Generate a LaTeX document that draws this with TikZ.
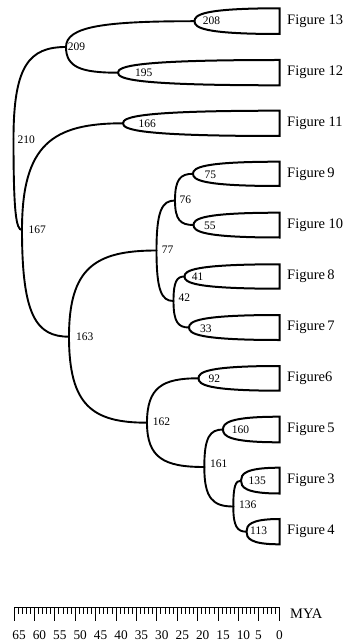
\documentclass[tikz,border=0pt]{standalone}
\usepackage{fontspec}
\setmainfont{Liberation Serif}
\usetikzlibrary{calc}
\tikzset{
  branch/.style={line width=1.9pt, line cap=round},
  tipbox/.style={line width=2pt, line join=miter},
  numlbl/.style={anchor=west, inner sep=0pt, font=\fontsize{11.5}{12}\selectfont},
  figlbl/.style={anchor=west, inner sep=0pt, font=\fontsize{14.5}{15}\selectfont},
  axlbl/.style={inner sep=0pt, font=\fontsize{13.3}{14}\selectfont},
  axisline/.style={line width=1.5pt},
  tickline/.style={line width=0.9pt},
}
\begin{document}
\begin{tikzpicture}[x=1pt,y=-1pt]
\useasboundingbox (0,0) rectangle (349,644);
% tree nodes
\coordinate (n210) at (13.5,139);
\coordinate (n209) at (66,47);
\coordinate (n208) at (194.5,21.2);
\coordinate (n195) at (118,72.7);
\coordinate (n167) at (22,230);
\coordinate (n166) at (123,123.3);
\coordinate (n163) at (69,336.7);
\coordinate (n77) at (156.5,250.5);
\coordinate (n76) at (175,200.5);
\coordinate (n75) at (193,173.8);
\coordinate (n55) at (193.5,225);
\coordinate (n42) at (173.5,301);
\coordinate (n41) at (184.5,276.5);
\coordinate (n33) at (189,327.5);
\coordinate (n162) at (147,422.7);
\coordinate (n92) at (198.5,378.3);
\coordinate (n161) at (204.3,467);
\coordinate (n160) at (223,429.5);
\coordinate (n136) at (233.3,506.5);
\coordinate (n135) at (241,480.6);
\coordinate (n113) at (246.5,531.7);
% tip ends
\coordinate (t13a) at (279.5,8.3);   \coordinate (t13b) at (279.5,34);
\coordinate (t12a) at (279.5,60);    \coordinate (t12b) at (279.5,85.3);
\coordinate (t11a) at (279.5,110.7); \coordinate (t11b) at (279.5,136);
\coordinate (t9a) at (279.5,161.7);  \coordinate (t9b) at (279.5,186);
\coordinate (t10a) at (279.5,212.7); \coordinate (t10b) at (279.5,237.5);
\coordinate (t8a) at (279.5,264.3);  \coordinate (t8b) at (279.5,288.7);
\coordinate (t7a) at (279.5,315);    \coordinate (t7b) at (279.5,340);
\coordinate (t6a) at (279.5,366);    \coordinate (t6b) at (279.5,390.7);
\coordinate (t5a) at (279.5,416.7);  \coordinate (t5b) at (279.5,442.3);
\coordinate (t3a) at (279.5,467.7);  \coordinate (t3b) at (279.5,493.5);
\coordinate (t4a) at (279.5,519);    \coordinate (t4b) at (279.5,544.3);
% branches
\foreach \a/\b in {n210/n209, n210/n167, n209/n208, n209/n195, n167/n166, n167/n163,
  n163/n77, n163/n162, n77/n76, n77/n42, n76/n75, n76/n55, n42/n41, n42/n33,
  n162/n92, n162/n161, n161/n160, n161/n136, n136/n135, n136/n113}
  \draw[branch] (\a) .. controls ($(\a)!0.8!(\a|-\b)$) and ($(\b)!0.7!(\a|-\b)$) .. (\b);
% tips
\foreach \t/\u/\l in {n208/t13a/t13b, n195/t12a/t12b, n166/t11a/t11b, n75/t9a/t9b,
  n55/t10a/t10b, n41/t8a/t8b, n33/t7a/t7b, n92/t6a/t6b, n160/t5a/t5b,
  n135/t3a/t3b, n113/t4a/t4b}
  \draw[tipbox] (\t) .. controls ($(\t)!0.5!(\t|-\u)$) and ($(\u)!0.9!(\t|-\u)$) .. (\u)
    -- (\l) .. controls ($(\l)!0.9!(\t|-\l)$) and ($(\t)!0.5!(\t|-\l)$) .. (\t) -- cycle;
% node numbers
\node[numlbl] (l208) at (202.7,21) {208};
\node[numlbl] (l209) at (67.7,46.7) {209};
\node[numlbl] (l195) at (135,72.7) {195};
\node[numlbl] (l210) at (17.3,140) {210};
\node[numlbl] (l166) at (138.3,123.3) {166};
\node[numlbl] (l167) at (28.3,230) {167};
\node[numlbl] (l75) at (204.3,175) {75};
\node[numlbl] (l76) at (179.3,200) {76};
\node[numlbl] (l55) at (204,226) {55};
\node[numlbl] (l77) at (161.7,250) {77};
\node[numlbl] (l41) at (191.7,276.7) {41};
\node[numlbl] (l42) at (178.3,297.3) {42};
\node[numlbl] (l33) at (200,328.3) {33};
\node[numlbl] (l163) at (76,336.7) {163};
\node[numlbl] (l92) at (208.3,379) {92};
\node[numlbl] (l162) at (152.7,421.7) {162};
\node[numlbl] (l160) at (231.7,429.3) {160};
\node[numlbl] (l161) at (210,464) {161};
\node[numlbl] (l136) at (239,504.3) {136};
\node[numlbl] (l135) at (248.3,481) {135};
\node[numlbl] (l113) at (250,531) {113};
% figure labels
\node[figlbl] (f13) at (287,21.2) {Figure 13};
\node[figlbl] (f12) at (287,72.7) {Figure 12};
\node[figlbl] (f11) at (287,123.3) {Figure 11};
\node[figlbl] (f9) at (287,173.8) {Figure\,9};
\node[figlbl] (f10) at (287,225) {Figure 10};
\node[figlbl] (f8) at (287,276.5) {Figure\,8};
\node[figlbl] (f7) at (287,327.5) {Figure\,7};
\node[figlbl] (f6) at (287,378.3) {Figure6};
\node[figlbl] (f5) at (287,429.5) {Figure\,5};
\node[figlbl] (f3) at (287,480.6) {Figure\,3};
\node[figlbl] (f4) at (287,531.7) {Figure\,4};
% time scale
\coordinate (sb65) at (14,607.3);
\coordinate (sb0) at (279.3,607.3);
\draw[axisline] (sb65) -- (sb0);
\foreach \v in {0,...,65}{
  \pgfmathsetmacro\tx{279.3-\v*4.0815}
  \pgfmathsetmacro\tl{mod(\v,5)==0 ? 621.3 : 613.7}
  \draw[tickline] (\tx,607.3) -- (\tx,\tl);
}
\foreach \v in {65,60,...,10}{
  \pgfmathsetmacro\lx{279.3-\v*4.0815+5}
  \node[axlbl] (ax\v) at (\lx,635) {\v};
}
\node[axlbl] (ax5) at (258.4,635) {5};
\node[axlbl] (ax0) at (279.5,635) {0};
\node[figlbl] (mya) at (290,613.3) {MYA};
\end{tikzpicture}
\end{document}
